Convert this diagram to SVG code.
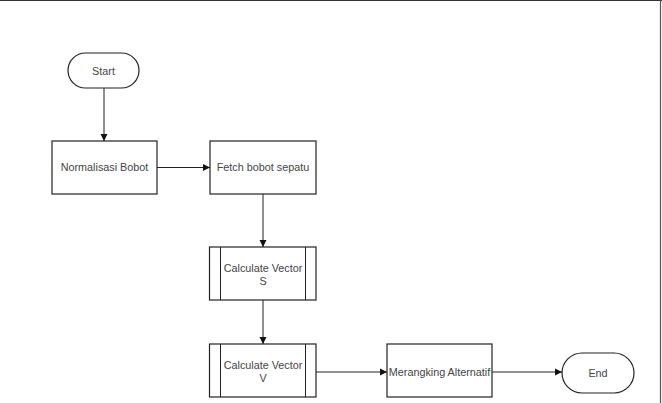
<svg xmlns="http://www.w3.org/2000/svg" width="662" height="403" viewBox="0 0 662 403">
<style>
.box{fill:#fff;stroke:#222;stroke-width:1.2}
.t{font-family:"Liberation Sans",Arial,sans-serif;font-size:10.8px;fill:#444;text-anchor:middle}
.c{fill:none;stroke:#222;stroke-width:1}
</style>
<defs>
<marker id="ah" markerWidth="8" markerHeight="8" refX="7" refY="4" orient="auto" markerUnits="userSpaceOnUse">
<path d="M0,0.5 L7,4 L0,7.5 Z" fill="#111"/>
</marker>
</defs>
<rect x="0" y="0" width="662" height="403" fill="#fff"/>
<line x1="0" y1="0.5" x2="662" y2="0.5" stroke="#333" stroke-width="1.2"/>
<line x1="660.5" y1="0" x2="660.5" y2="403" stroke="#555" stroke-width="1.2"/>
<g id="connectors">
<line class="c" x1="104" y1="88" x2="104" y2="141" stroke-width="2" marker-end="url(#ah)"/>
<line class="c" x1="157" y1="167.5" x2="210" y2="167.5" marker-end="url(#ah)"/>
<line class="c" x1="263" y1="194" x2="263" y2="247" marker-end="url(#ah)"/>
<line class="c" x1="263" y1="300" x2="263" y2="344" marker-end="url(#ah)"/>
<line class="c" x1="316" y1="372" x2="387" y2="372" marker-end="url(#ah)"/>
<line class="c" x1="492" y1="372" x2="562" y2="372" marker-end="url(#ah)"/>
</g>
<g id="start">
<rect class="box" x="68" y="53" width="71" height="35" rx="17.5" ry="17.5"/>
<text class="t" x="103.5" y="74.5">Start</text>
</g>
<g id="normalisasi">
<rect class="box" x="52" y="141" width="105" height="53"/>
<text class="t" x="104.5" y="171">Normalisasi Bobot</text>
</g>
<g id="fetch">
<rect class="box" x="210" y="141" width="106" height="53"/>
<text class="t" x="263" y="171">Fetch bobot sepatu</text>
</g>
<g id="vectorS">
<rect class="box" x="209.5" y="247" width="106.5" height="53"/>
<line class="c" x1="220.5" y1="247" x2="220.5" y2="300"/>
<line class="c" x1="305.5" y1="247" x2="305.5" y2="300"/>
<text class="t" x="263" y="272">Calculate Vector</text>
<text class="t" x="263" y="285">S</text>
</g>
<g id="vectorV">
<rect class="box" x="209.5" y="344" width="106.5" height="53"/>
<line class="c" x1="220.5" y1="344" x2="220.5" y2="397"/>
<line class="c" x1="305.5" y1="344" x2="305.5" y2="397"/>
<text class="t" x="263" y="369">Calculate Vector</text>
<text class="t" x="263" y="382">V</text>
</g>
<g id="merangking">
<rect class="box" x="387" y="344" width="105" height="53"/>
<text class="t" x="439.5" y="375.5">Merangking Alternatif</text>
</g>
<g id="end">
<rect class="box" x="562" y="353" width="72" height="40" rx="20" ry="20"/>
<text class="t" x="598" y="376.5">End</text>
</g>
</svg>
